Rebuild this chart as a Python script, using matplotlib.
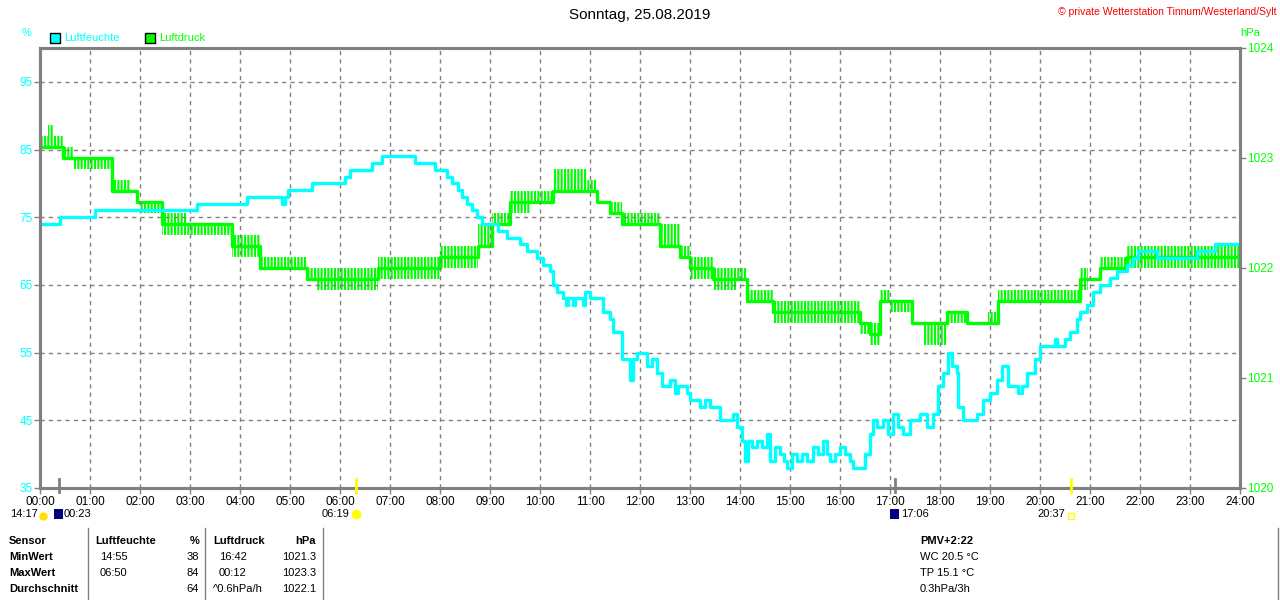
import matplotlib
matplotlib.use("Agg")
import matplotlib.pyplot as plt
from matplotlib.patches import Rectangle
from matplotlib.lines import Line2D

plt.rcParams['font.family'] = ['Liberation Sans', 'DejaVu Sans']
plt.rcParams['hatch.linewidth'] = 1.5

W, H = 1280, 600
CYAN = '#00FFFF'
GREEN = '#00FF00'
GRAY = '#808080'

# humidity (%), step series
hum_t = [0.00, 0.40, 1.10, 3.14, 4.14, 4.84, 4.90, 4.96, 5.44, 6.10, 6.20, 6.64, 6.84, 7.50,
         7.90, 8.14, 8.24, 8.36, 8.44, 8.54, 8.64, 8.74, 8.84, 9.16, 9.34, 9.60, 9.74, 9.94,
         10.06, 10.20, 10.26, 10.34, 10.46, 10.52, 10.56, 10.66, 10.70, 10.86, 10.90, 11.00,
         11.26, 11.40, 11.46, 11.64, 11.80, 11.86, 11.94, 12.14, 12.24, 12.34, 12.44, 12.60,
         12.70, 12.76, 12.94, 13.00, 13.20, 13.30, 13.40, 13.60, 13.86, 13.94, 14.04, 14.10,
         14.16, 14.24, 14.34, 14.44, 14.54, 14.60, 14.70, 14.80, 14.88, 14.94, 15.04, 15.14,
         15.24, 15.34, 15.46, 15.56, 15.66, 15.74, 15.80, 15.90, 16.00, 16.10, 16.20, 16.26,
         16.50, 16.60, 16.66, 16.74, 16.86, 16.96, 17.06, 17.16, 17.26, 17.40, 17.60, 17.74,
         17.86, 17.96, 18.06, 18.16, 18.24, 18.34, 18.36, 18.46, 18.74, 18.86, 19.00, 19.14,
         19.24, 19.36, 19.56, 19.64, 19.74, 19.90, 20.00, 20.30, 20.34, 20.50, 20.60, 20.74,
         20.80, 20.94, 21.06, 21.20, 21.40, 21.54, 21.74, 21.86, 21.96, 22.34, 23.14, 23.50,
         24.00]
hum_v = [74, 75, 76, 77, 78, 77, 78, 79, 80, 81, 82, 83, 84, 83,
         82, 81, 80, 79, 78, 77, 76, 75, 74, 73, 72, 71, 70, 69,
         68, 67, 65, 64, 63, 62, 63, 62, 63, 62, 64, 63,
         61, 60, 58, 54, 51, 54, 55, 53, 54, 52, 50, 51,
         49, 50, 49, 48, 47, 48, 47, 45, 46, 44, 42, 39,
         42, 41, 42, 41, 43, 39, 41, 40, 39, 38, 40, 39,
         40, 39, 41, 40, 42, 40, 39, 40, 41, 40, 39, 38,
         40, 43, 45, 44, 45, 43, 46, 44, 43, 45, 46, 44,
         46, 50, 52, 55, 53, 52, 47, 45, 46, 48, 49, 51,
         53, 50, 49, 50, 52, 54, 56, 57, 56, 57, 58, 60,
         61, 62, 64, 65, 66, 67, 68, 69, 70, 69, 70, 71,
         71]

# pressure (hPa): segment start times, steady level and the flicker band around it
p_t = [0.00, 0.16, 0.26, 0.46, 0.66, 1.44, 1.80, 1.94, 2.00, 2.44, 2.94, 3.84, 4.40, 5.34,
       5.54, 6.76, 8.00, 8.76, 9.04, 9.40, 9.80, 10.26, 10.94, 11.14, 11.40, 11.64, 12.40,
       12.80, 13.00, 13.46, 13.94, 14.14, 14.66, 16.40, 16.60, 16.80, 17.00, 17.44, 17.66,
       18.14, 18.54, 18.96, 19.16, 20.80, 20.96, 21.20, 21.74, 24.00]
p_base = [1023.1, 1023.1, 1023.1, 1023.0, 1023.0, 1022.7, 1022.7, 1022.6, 1022.6, 1022.4,
          1022.4, 1022.2, 1022.0, 1021.9, 1021.9, 1022.0, 1022.1, 1022.2, 1022.4, 1022.6,
          1022.6, 1022.7, 1022.7, 1022.6, 1022.5, 1022.4, 1022.2, 1022.1, 1022.0, 1021.9,
          1021.9, 1021.7, 1021.6, 1021.5, 1021.4, 1021.7, 1021.7, 1021.5, 1021.5, 1021.6,
          1021.5, 1021.5, 1021.7, 1021.9, 1021.9, 1022.0, 1022.1, 1022.1]
p_lo = [1023.1, 1023.1, 1023.1, 1023.0, 1022.9, 1022.7, 1022.7, 1022.6, 1022.5, 1022.3,
        1022.3, 1022.1, 1022.0, 1021.9, 1021.8, 1021.9, 1022.0, 1022.2, 1022.4, 1022.5,
        1022.6, 1022.7, 1022.7, 1022.6, 1022.5, 1022.4, 1022.2, 1022.1, 1021.9, 1021.8,
        1021.9, 1021.7, 1021.5, 1021.4, 1021.3, 1021.7, 1021.6, 1021.5, 1021.3, 1021.5,
        1021.5, 1021.5, 1021.7, 1021.8, 1021.9, 1022.0, 1022.0, 1022.0]
p_hi = [1023.2, 1023.3, 1023.2, 1023.1, 1023.0, 1022.8, 1022.7, 1022.6, 1022.6, 1022.5,
        1022.4, 1022.3, 1022.1, 1022.0, 1022.0, 1022.1, 1022.2, 1022.4, 1022.5, 1022.7,
        1022.7, 1022.9, 1022.8, 1022.6, 1022.6, 1022.5, 1022.4, 1022.2, 1022.1, 1022.0,
        1022.0, 1021.8, 1021.7, 1021.5, 1021.5, 1021.8, 1021.7, 1021.5, 1021.5, 1021.6,
        1021.5, 1021.6, 1021.8, 1022.0, 1021.9, 1022.1, 1022.2, 1022.2]

hours = list(range(25))
hour_labels = [f"{h:02d}:00" for h in hours]
hum_ticks = [35, 45, 55, 65, 75, 85, 95]
p_ticks = [1020, 1021, 1022, 1023, 1024]

# sun / moon events (hours) and their marker colours
event_t = [0.383, 6.317, 17.1, 20.617]
event_c = [GRAY, '#FFFF00', GRAY, '#FFFF00']

fig = plt.figure(figsize=(12.8, 6.0), dpi=100)


def px(x, y):
    return x / W, 1 - y / H


def ftxt(x, y, s, **kw):
    kw.setdefault('va', 'center')
    kw.setdefault('fontsize', 8)
    fig.text(*px(x, y), s, **kw)


ax = fig.add_axes([40 / W, 1 - 488 / H, 1200 / W, 440 / H])
ax2 = ax.twinx()
ax.set_zorder(2)
ax.patch.set_visible(False)

# flicker band drawn as a dense comb, steady level as a solid line
ax2.fill_between(p_t, p_lo, p_hi, step='post', facecolor='none', edgecolor=GREEN,
                 hatch='|||||', lw=0)
ax2.step(p_t, p_base, where='post', color=GREEN, lw=2.4)
ax.step(hum_t, hum_v, where='post', color=CYAN, lw=2.4)

ax.set_xlim(0, 24)
ax.set_ylim(35, 100)
ax2.set_ylim(1020, 1024)
ax.set_xticks(hours)
ax.set_xticklabels(hour_labels)
ax.set_yticks(hum_ticks)
ax2.set_yticks(p_ticks)
ax.grid(True, color=GRAY, linestyle=(0, (3, 3)), lw=1)
ax.tick_params(axis='x', length=4, width=1, color=GRAY, labelsize=8.5, pad=2)
ax.tick_params(axis='y', length=4, width=1, color=GRAY, labelsize=8.5, labelcolor=CYAN, pad=1)
ax2.tick_params(axis='y', length=4, width=1, color=GRAY, labelsize=8.5, labelcolor=GREEN, pad=1)
for a in (ax, ax2):
    for sp in a.spines.values():
        sp.set_color(GRAY)
        sp.set_linewidth(2.2)

for t, c in zip(event_t, event_c):
    ax.plot([t, t], [34.4, 36.4], color=c, lw=2, clip_on=False, zorder=5)

# header texts
ftxt(640, 15, "Sonntag, 25.08.2019", ha='center', fontsize=11)
ftxt(1276, 12, "\u00a9 private Wetterstation Tinnum/Westerland/Sylt", ha='right',
     color='#FF0000', fontsize=7.5)
ftxt(22, 33, "%", color=CYAN)
ftxt(1240, 33, "hPa", color=GREEN)
fig.add_artist(Rectangle(px(50, 43), 10 / W, 10 / H, fc=CYAN, ec='black', lw=1,
                         transform=fig.transFigure))
ftxt(64, 38, "Luftfeuchte", color=CYAN)
fig.add_artist(Rectangle(px(145, 43), 10 / W, 10 / H, fc=GREEN, ec='black', lw=1,
                         transform=fig.transFigure))
ftxt(159, 38, "Luftdruck", color=GREEN)

# sun / moon notes under the axis
ftxt(10, 514, "14:17")
fig.add_artist(Line2D([px(43, 0)[0]], [px(0, 516)[1]], marker='o', ms=5, color='#FFE000',
                      transform=fig.transFigure))
fig.add_artist(Rectangle(px(54, 519), 9 / W, 10 / H, fc='#000080', ec='none',
                         transform=fig.transFigure))
ftxt(64, 514, "00:23")
ftxt(322, 514, "06:19")
fig.add_artist(Line2D([px(356, 0)[0]], [px(0, 514)[1]], marker='o', ms=6, color='#FFFF00',
                      transform=fig.transFigure))
fig.add_artist(Rectangle(px(890, 519), 9 / W, 10 / H, fc='#000080', ec='none',
                         transform=fig.transFigure))
ftxt(901, 514, "17:06")
ftxt(1037, 514, "20:37")
fig.add_artist(Line2D([px(1071, 0)[0]], [px(0, 516)[1]], marker='s', ms=4, mfc='none',
                      mec='#FFFF00', transform=fig.transFigure))

# summary table
rows_y = [541, 557, 573, 589]
ftxt(9, rows_y[0], "Sensor", fontweight='bold')
ftxt(9, rows_y[1], "MinWert", fontweight='bold')
ftxt(9, rows_y[2], "MaxWert", fontweight='bold')
ftxt(9, rows_y[3], "Durchschnitt", fontweight='bold')
ftxt(95, rows_y[0], "Luftfeuchte", fontweight='bold')
ftxt(199, rows_y[0], "%", fontweight='bold', ha='right')
ftxt(100, rows_y[1], "14:55")
ftxt(100, rows_y[2], "06:50")
ftxt(199, rows_y[1], "38", ha='right')
ftxt(199, rows_y[2], "84", ha='right')
ftxt(199, rows_y[3], "64", ha='right')
ftxt(213, rows_y[0], "Luftdruck", fontweight='bold')
ftxt(316, rows_y[0], "hPa", fontweight='bold', ha='right')
ftxt(219, rows_y[1], "16:42")
ftxt(219, rows_y[2], "00:12")
ftxt(213, rows_y[3], "^0.6hPa/h")
ftxt(316, rows_y[1], "1021.3", ha='right')
ftxt(316, rows_y[2], "1023.3", ha='right')
ftxt(316, rows_y[3], "1022.1", ha='right')
for xs in (88, 205, 323, 1278):
    fig.add_artist(Line2D([xs / W, xs / W], [1 - 528 / H, 0], color=GRAY, lw=1,
                          transform=fig.transFigure))

ftxt(920, rows_y[0], "PMV+2:22", fontweight='bold')
ftxt(920, rows_y[1], "WC 20.5 \u00b0C")
ftxt(920, rows_y[2], "TP 15.1 \u00b0C")
ftxt(920, rows_y[3], "0.3hPa/3h")

fig.savefig("out.png", dpi=100, facecolor='white')
